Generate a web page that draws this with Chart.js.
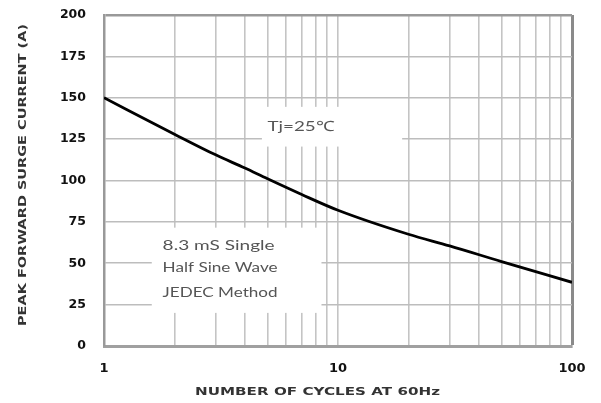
<!DOCTYPE html>
<html><head><meta charset="utf-8">
<script src="https://cdn.jsdelivr.net/npm/chart.js@4"></script>
<style>html,body{margin:0;padding:0;background:#fff}#wrap{width:601px;height:403px}</style>
</head><body><div id="wrap"><canvas id="c" width="601" height="403"></canvas></div>
<script>
const cycles = [1, 2, 3, 4, 5, 7, 10, 20, 30, 50, 100];
const current = [150, 128, 115.5, 107.5, 101, 91.5, 82, 67.5, 60.5, 51, 38.5];
const xTicks = [1,2,3,4,5,6,7,8,9,10,20,30,40,50,60,70,80,90,100];
const xLabels = [1, 10, 100];
const yTicks = [0,25,50,75,100,125,150,175,200];
const yTitle = 'PEAK FORWARD SURGE CURRENT (A)';
const xTitle = 'NUMBER OF CYCLES AT 60Hz';
const noteTj = {text: ['Tj=25\u2103'], box: [4.73, 18.8, 144.5, 120.5], at: [6.95, 132.5]};
const noteJedec = {text: ['8.3 mS Single', 'Half Sine Wave', 'JEDEC Method'], box: [1.6, 8.5, 71.5, 20], at: [1.78, [60.5, 47.5, 32.5]]};

// draw text stretched horizontally to a target width (the reference is wide-set)
function wideText(ctx, text, x, y, width, align) {
  const w = ctx.measureText(text).width;
  const sx = width / w;
  ctx.save();
  ctx.translate(x, y);
  ctx.scale(sx, 1);
  ctx.textAlign = align;
  ctx.fillText(text, 0, 0);
  ctx.restore();
}

const notesPlugin = {
  id: 'notes',
  beforeDatasetsDraw(chart) {
    const {ctx, scales: {x, y}} = chart;
    ctx.save();
    ctx.fillStyle = '#fff';
    [noteTj, noteJedec].forEach(n => {
      const [x0, x1, y0, y1] = n.box;
      const px0 = x.getPixelForValue(x0), px1 = x.getPixelForValue(x1);
      const py0 = y.getPixelForValue(y0), py1 = y.getPixelForValue(y1);
      ctx.fillRect(px0, py0, px1 - px0, py1 - py0);
    });
    ctx.fillStyle = '#555';
    ctx.font = '14px Lato, "Open Sans", sans-serif';
    ctx.textBaseline = 'middle';
    wideText(ctx, noteTj.text[0], x.getPixelForValue(noteTj.at[0]), y.getPixelForValue(noteTj.at[1]), 67, 'center');
    const jw = [112, 115, 115];
    noteJedec.text.forEach((t, i) => {
      wideText(ctx, t, x.getPixelForValue(noteJedec.at[0]), y.getPixelForValue(noteJedec.at[1][i]), jw[i], 'left');
    });
    ctx.restore();
  },
  afterDraw(chart) {
    const {ctx, chartArea: a} = chart;
    ctx.save();
    ctx.fillStyle = '#333';
    ctx.font = 'bold 11px "DejaVu Sans", sans-serif';
    ctx.textBaseline = 'middle';
    wideText(ctx, xTitle, a.left + 213.5, a.bottom + 46, 245, 'center');
    ctx.translate(a.left - 81, a.top + 160);
    ctx.rotate(-Math.PI / 2);
    wideText(ctx, yTitle, 0, 0, 302, 'center');
    ctx.restore();
  }
};

new Chart(document.getElementById('c'), {
  type: 'line',
  data: {
    datasets: [{
      data: cycles.map((c, i) => ({x: c, y: current[i]})),
      borderColor: '#000',
      borderWidth: 2.8,
      pointRadius: 0,
      cubicInterpolationMode: 'monotone',
      fill: false
    }]
  },
  options: {
    responsive: false,
    animation: false,
    devicePixelRatio: 1,
    layout: {padding: {left: 0, top: 15, right: 29, bottom: 0}},
    plugins: {legend: {display: false}, tooltip: {enabled: false}},
    scales: {
      x: {
        type: 'logarithmic',
        min: 1, max: 100,
        afterBuildTicks(s) { s.ticks = xTicks.map(v => ({value: v})); },
        afterFit(s) { s.height = 57; s.paddingLeft = 0; s.paddingRight = 0; },
        ticks: {
          autoSkip: false, maxRotation: 0, padding: 15,
          color: '#111',
          font: {family: '"DejaVu Sans", sans-serif', size: 13, weight: 'bold'},
          callback: v => xLabels.includes(v) ? String(v) : ''
        },
        grid: {
          drawTicks: false,
          color: ctx => ctx.tick && ctx.tick.value === 100 ? '#8a8a8a' : '#c4c4c4',
          lineWidth: ctx => ctx.tick && ctx.tick.value === 100 ? 3 : 1.6
        },
        border: {display: true, color: '#a0a0a0', width: 3},
        title: {display: false, text: xTitle}
      },
      y: {
        min: 0, max: 200,
        afterBuildTicks(s) { s.ticks = yTicks.map(v => ({value: v})); },
        afterFit(s) { s.width = 104; s.paddingTop = 0; s.paddingBottom = 0; },
        ticks: {
          padding: 18, color: '#111',
          font: {family: '"DejaVu Sans", sans-serif', size: 12.5, weight: 'bold'}
        },
        grid: {
          drawTicks: false,
          color: ctx => ctx.tick && ctx.tick.value === 200 ? '#999' : '#bdbdbd',
          lineWidth: ctx => ctx.tick && ctx.tick.value === 200 ? 2.5 : 1.6
        },
        border: {display: true, color: '#999', width: 2.5},
        title: {display: false, text: yTitle}
      }
    }
  },
  plugins: [notesPlugin]
});
</script></body></html>
